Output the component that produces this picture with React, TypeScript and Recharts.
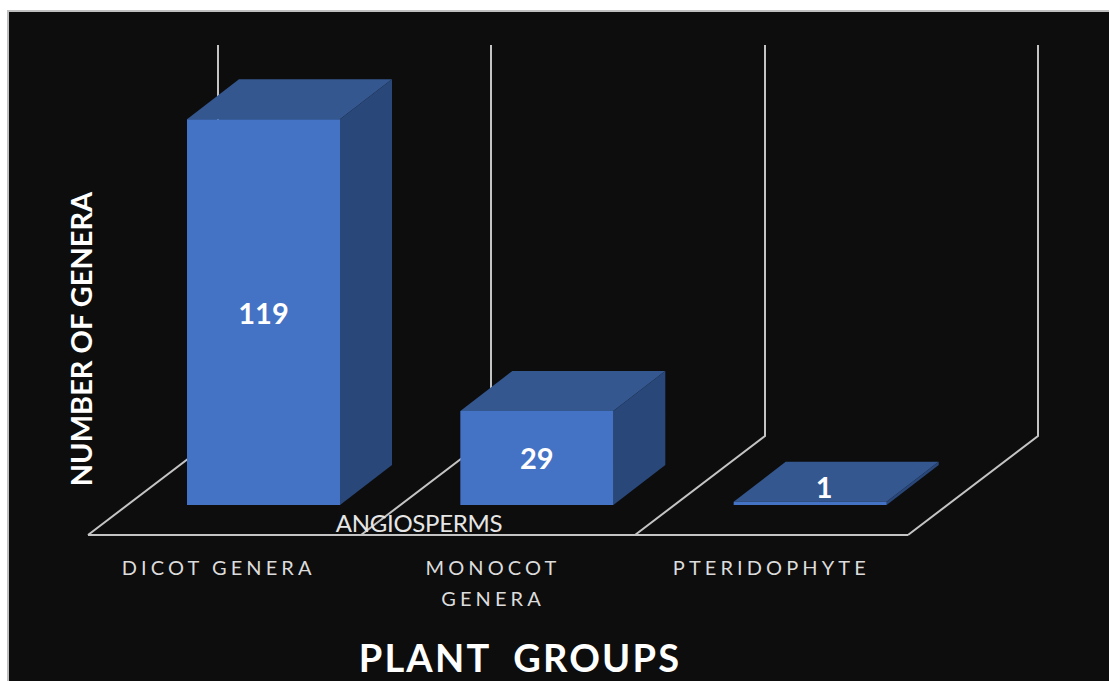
import React from "react";
import { BarChart, Bar, XAxis, YAxis, LabelList } from "recharts";

const categories = ["DICOT GENERA", "MONOCOT GENERA", "PTERIDOPHYTE"];
const genera = [119, 29, 1];
const tickLines = [["DICOT GENERA"], ["MONOCOT", "GENERA"], ["PTERIDOPHYTE"]];
const data = categories.map((name, i) => ({ name, genera: genera[i] }));

const W = 1109;
const H = 681;
const margin = { left: 127, right: 162, top: 116, bottom: 146 };
const barDepth = { dx: 52, dy: 40 };
const FONT = "Lato, 'Open Sans', sans-serif";
const LINE = "#C4C4C4";

const floorFront = 535;
const floorBack = 436;
const wallTop = 45;
const floorXs = [88, 361, 635, 908];
const floorDx = 130;

function Box3D(props: any) {
  const { x, y, width, height } = props;
  const { dx, dy } = barDepth;
  const r = x + width;
  const b = y + height;
  return (
    <g>
      <polygon points={`${x},${y} ${x + dx},${y - dy} ${r + dx},${y - dy} ${r},${y}`} fill="#34578F" />
      <polygon points={`${r},${y} ${r + dx},${y - dy} ${r + dx},${b - dy} ${r},${b}`} fill="#2A477A" />
      <rect x={x} y={y} width={width} height={height} fill="#4472C4" />
    </g>
  );
}

function ValueLabel(props: any) {
  const { x, y, width, height, value } = props;
  const flat = height < 10;
  return (
    <text
      x={x + width / 2 + (flat ? 14 : 0)}
      y={flat ? y - 15 : y + height / 2}
      textAnchor="middle"
      dominantBaseline="central"
      fill="#fff"
      fontFamily={FONT}
      fontSize={29}
      fontWeight={700}
    >
      {value}
    </text>
  );
}

function CategoryTick(props: any) {
  const { x, y, index } = props;
  const offsets = [-45, -44, -39];
  return (
    <text x={x + offsets[index]} y={y} textAnchor="middle" fill="#DCDCDC" fontFamily={FONT} fontSize={20} style={{ letterSpacing: "4.1px" }}>
      {tickLines[index].map((line, i) => (
        <tspan key={line} x={x + offsets[index]} y={y + 62 + i * 31}>
          {line}
        </tspan>
      ))}
    </text>
  );
}

export default function App() {
  return (
    <div style={{ position: "absolute", left: 0, top: 0, width: W, height: H, background: "#fff", overflow: "hidden" }}>
      <div style={{ position: "absolute", left: 7, top: 10, width: W - 7, height: H - 10, background: "#0D0D0D", borderLeft: "2px solid #BFBFBF", borderTop: "2px solid #BFBFBF", boxSizing: "border-box" }} />
      <div style={{ position: "absolute", left: 0, top: 0 }}>
        <BarChart width={W} height={H} data={data} margin={margin} barSize={153}>
          <g>
            {floorXs.map((fx) => (
              <polyline key={fx} points={`${fx},${floorFront} ${fx + floorDx},${floorBack} ${fx + floorDx},${wallTop}`} fill="none" stroke={LINE} strokeWidth={2} />
            ))}
            <line x1={floorXs[0]} y1={floorFront} x2={floorXs[3]} y2={floorFront} stroke={LINE} strokeWidth={2} />
          </g>
          <XAxis dataKey="name" axisLine={false} tickLine={false} tick={<CategoryTick />} interval={0} />
          <YAxis domain={[0, 120]} hide />
          <Bar dataKey="genera" shape={<Box3D />} isAnimationActive={false}>
            <LabelList dataKey="genera" content={<ValueLabel />} />
          </Bar>
          <text x={419} y={532} textAnchor="middle" fill="#E6E6E6" fontFamily={FONT} fontSize={24} style={{ letterSpacing: "-0.3px" }}>ANGIOSPERMS</text>
          <text x={520} y={672} textAnchor="middle" fill="#fff" fontFamily={FONT} fontSize={38} fontWeight={700} style={{ letterSpacing: "2.2px", whiteSpace: "pre" }}>PLANT  GROUPS</text>
          <text transform="translate(92,339) rotate(-90)" textAnchor="middle" fill="#fff" fontFamily={FONT} fontSize={29} fontWeight={700}>NUMBER OF GENERA</text>
        </BarChart>
      </div>
    </div>
  );
}
